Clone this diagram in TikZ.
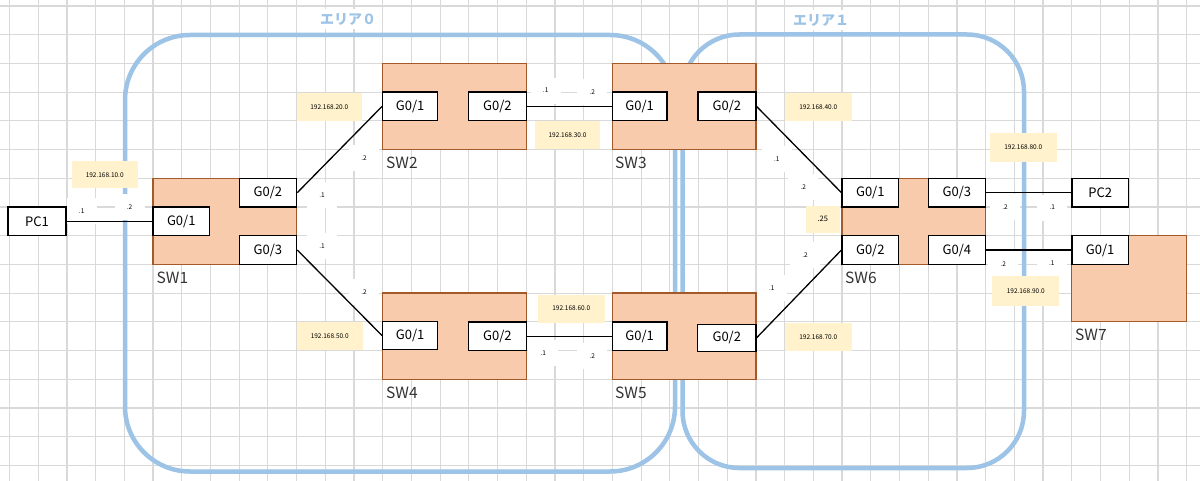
\documentclass[tikz,border=0pt]{standalone}
\usepackage{fontspec}
\setmainfont{Noto Sans CJK JP}
\definecolor{gridc}{HTML}{D9D9D9}
\definecolor{areac}{HTML}{9DC3E6}
\definecolor{swfill}{HTML}{F8CBAD}
\definecolor{swdraw}{HTML}{A35A2A}
\definecolor{cream}{HTML}{FFF2CC}
\newcommand\rb[7]{\node[#1, minimum width={#5-#3}, minimum height={#6-#4}] (#2) at ({(#3+#5)/2},{(#4+#6)/2}) {#7};}
\tikzset{
  gridline/.style={draw=gridc, line width=1.2pt},
  swbody/.style={draw=swdraw, fill=swfill, line width=1.3pt, inner sep=0pt},
  port/.style={draw=black, fill=white, line width=1.4pt, inner sep=0pt, font=\fontsize{13}{13}\selectfont},
  swlabel/.style={anchor=west, inner sep=0pt, text=black!80, font=\fontsize{15.5}{15.5}\selectfont},
  net/.style={fill=cream, inner sep=0pt, font=\fontsize{6.5}{6.5}\selectfont},
  iplab/.style={fill=white, inner sep=0pt, minimum width=30pt, minimum height=26pt, font=\fontsize{6.5}{6.5}\selectfont},
  link/.style={draw=black, line width=1.3pt},
  area/.style={draw=areac, line width=4.5pt},
  areatitle/.style={fill=white, text=areac, inner sep=4pt, font=\fontsize{14}{14}\selectfont\bfseries}
}
\begin{document}
\begin{tikzpicture}[x=1pt,y=-1pt]
\useasboundingbox (0,0) rectangle (1200,481);
\fill[white] (0,0) rectangle (1200,481);
% grid
\foreach \i in {0,...,41} \draw[gridline] ({9.5+28.71*\i},0) -- ({9.5+28.71*\i},481);
\foreach \j in {0,...,16} \draw[gridline] (0,{6+28.71*\j}) -- (1200,{6+28.71*\j});
% areas
\draw[area, rounded corners=65pt] (125,35) rectangle (675,471.5);
\draw[area, rounded corners=57pt] (682.5,34.5) rectangle (1024,468);
% small address labels
\node[iplab] (a1) at (81.7,211) {.1};
\node[iplab] (a2) at (129.5,207) {.2};
\node[iplab] (b1) at (322,195) {.1};
\node[iplab] (b2) at (364,158) {.2};
\node[iplab] (c1) at (322,246) {.1};
\node[iplab] (c2) at (364,292) {.2};
\node[iplab] (d1) at (545.7,90.7) {.1};
\node[iplab] (d2) at (592.3,91.7) {.2};
\node[iplab] (e1) at (543.3,353.3) {.1};
\node[iplab] (e2) at (592.3,355.7) {.2};
\node[iplab] (f1) at (776.7,159.3) {.1};
\node[iplab] (f2) at (803.3,187.3) {.2};
\node[iplab] (g2) at (805,255) {.2};
\node[iplab] (g1) at (771.7,288.3) {.1};
\node[iplab] (h2) at (1005,206.7) {.2};
\node[iplab] (h1) at (1052.3,207.7) {.1};
\node[iplab] (i2) at (1003.3,264) {.2};
\node[iplab] (i1) at (1051.7,263.3) {.1};
% network labels
\node[net, minimum width=66pt, minimum height=27.5pt] (n10) at (104.7,174.7) {192.168.10.0};
\node[net, minimum width=65pt, minimum height=28pt] (n20) at (329.3,106.7) {192.168.20.0};
\node[net, minimum width=65pt, minimum height=28pt] (n30) at (567.5,135.5) {192.168.30.0};
\node[net, minimum width=66pt, minimum height=28pt] (n50) at (329.7,336.3) {192.168.50.0};
\node[net, minimum width=67pt, minimum height=28pt] (n60) at (571.3,308.5) {192.168.60.0};
\node[net, minimum width=67pt, minimum height=28pt] (n40) at (818.3,107.5) {192.168.40.0};
\node[net, minimum width=67pt, minimum height=28pt] (n70) at (818.3,336.8) {192.168.70.0};
\node[net, minimum width=67pt, minimum height=29pt] (n80) at (1023.3,147.2) {192.168.80.0};
\node[net, minimum width=67pt, minimum height=29.5pt] (n90) at (1025.8,290.8) {192.168.90.0};
\node[net, minimum width=34pt, minimum height=27pt, font=\fontsize{7.5}{7.5}\selectfont] (n25) at (822.8,219.3) {.25};
% switches
\rb{swbody}{SW1}{153.05}{178.3}{296.6}{264.4}{}
\rb{port}{SW1g2}{239.2}{178.3}{296.6}{207.0}{G0/2}
\rb{port}{SW1g1}{153.05}{207.0}{209.5}{235.7}{G0/1}
\rb{port}{SW1g3}{239.2}{235.7}{296.6}{264.4}{G0/3}
\rb{swbody}{SW2}{382.7}{63.4}{526.3}{149.6}{}
\rb{port}{SW2g1}{382.7}{92.1}{437.5}{120.8}{G0/1}
\rb{port}{SW2g2}{468.5}{92.1}{526.3}{120.8}{G0/2}
\rb{swbody}{SW3}{612.4}{63.4}{755.9}{149.6}{}
\rb{port}{SW3g1}{612.4}{92.1}{667}{120.8}{G0/1}
\rb{port}{SW3g2}{698}{92.1}{755.9}{120.8}{G0/2}
\rb{swbody}{SW4}{382.7}{293.1}{526.3}{379.2}{}
\rb{port}{SW4g1}{382.7}{321.5}{437.5}{349.5}{G0/1}
\rb{port}{SW4g2}{468.5}{321.8}{526.3}{350.5}{G0/2}
\rb{swbody}{SW5}{612.4}{293.1}{755.9}{379.2}{}
\rb{port}{SW5g1}{612.4}{321.8}{667}{350.5}{G0/1}
\rb{port}{SW5g2}{697.7}{324.3}{755.9}{351.3}{G0/2}
\rb{swbody}{SW6}{842.1}{178.3}{985.6}{264.4}{}
\rb{port}{SW6g1}{842.1}{178.3}{898.5}{207.0}{G0/1}
\rb{port}{SW6g3}{928.2}{178.3}{985.6}{207.0}{G0/3}
\rb{port}{SW6g2}{842.1}{235.7}{898.5}{264.4}{G0/2}
\rb{port}{SW6g4}{928.2}{235.7}{985.6}{264.4}{G0/4}
\rb{swbody}{SW7}{1071.8}{235.7}{1186.6}{321.8}{}
\rb{port}{SW7g1}{1071.8}{235.7}{1128.5}{264.4}{G0/1}
\rb{port}{PC1}{8}{207.0}{66}{235.7}{PC1}
\rb{port}{PC2}{1071.8}{178.3}{1128.5}{207.0}{PC2}
% links
\draw[link] (PC1.east) -- (SW1g1.west);
\draw[link] (SW1g2.east) -- (SW2g1.west);
\draw[link] (SW1g3.east) -- (SW4g1.west);
\draw[link] (SW2g2.east) -- (SW3g1.west);
\draw[link] (SW4g2.east) -- (SW5g1.west);
\draw[link] (SW3g2.east) -- (SW6g1.west);
\draw[link] (SW5g2.east) -- (SW6g2.west);
\draw[link] (SW6g3.east) -- (PC2.west);
\draw[link] (SW6g4.east) -- (SW7g1.west);
% switch names
\node[swlabel] (L1) at (156.5,278) {SW1};
\node[swlabel] (L2) at (386,163.3) {SW2};
\node[swlabel] (L3) at (615,163.3) {SW3};
\node[swlabel] (L4) at (386,393.3) {SW4};
\node[swlabel] (L5) at (615,393.3) {SW5};
\node[swlabel] (L6) at (845,278.3) {SW6};
\node[swlabel] (L7) at (1075,335) {SW7};
% area titles
\node[areatitle] (t0) at (348,19) {エリア０};
\node[areatitle] (t1) at (821,20) {エリア１};
\end{tikzpicture}
\end{document}
